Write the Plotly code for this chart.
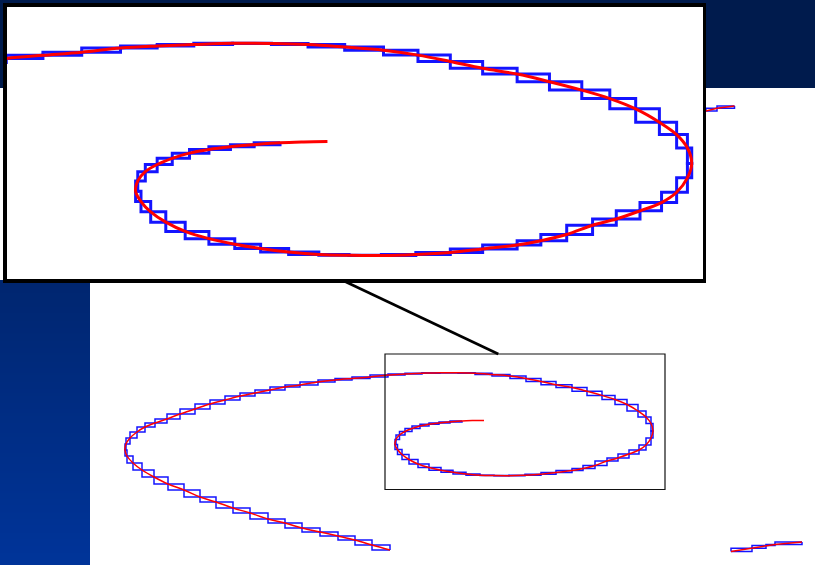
import plotly.graph_objects as go

# ---- data (x to the right, y downward) ----
spiral_x = [390, 372, 355, 338, 320, 302, 285, 268, 250, 233, 216, 200, 184, 168, 154, 142, 133, 127, 125,
            126, 130, 137, 145, 155, 167, 180, 195, 210, 225, 240, 255, 270, 285, 300, 318, 335, 352, 370,
            388, 405, 422, 440, 458, 475, 492, 510, 526, 541, 556, 572, 587, 602, 615, 627, 638, 646, 651,
            653, 651, 646, 639, 629, 618, 607, 595, 583, 572, 556, 541, 525, 509, 494, 480, 466, 453, 441,
            429, 418, 409, 402, 397.5, 395, 396, 399.5, 405, 412, 420, 429, 439, 450, 462, 473, 484]
spiral_y = [550, 545, 540, 536, 532, 528, 523, 519, 513, 508, 502, 497, 490, 484, 477, 470, 463, 456, 450,
            444, 438, 432, 427, 423, 419, 414, 409, 404, 400, 396, 393, 390, 387, 385, 382, 380, 378.5, 377,
            375, 374, 373.3, 372.7, 372.8, 373.3, 374.5, 376, 378.4, 381.5, 384.8, 387.6, 391.3, 395.4, 399.5,
            404.5, 411, 417, 423.5, 431, 438, 445, 450, 454, 458, 461, 465.5, 468.5, 470.6, 472.5, 474.2,
            475.2, 475.7, 475.6, 475.2, 474, 472.3, 470.2, 467.5, 464, 459.5, 454.5, 449.5, 444.5, 439.5,
            435, 431.5, 428.5, 426, 424.2, 422.9, 421.9, 421, 420.6, 420.4]
stair_points = 91  # staircase drawn up to here; the last stretch is the red curve only

frag_a_x = [706, 717, 734.5]
frag_a_y = [111, 108.3, 106]
frag_b_x = [731, 752, 766, 775, 802]
frag_b_y = [551.5, 548.3, 545.5, 544.5, 542]

W, H = 815, 565
fig = go.Figure()

# left background strip with a vertical blue gradient (visible below the inset)
n_rows = 60
strip_top, strip_bot = 280, H
strip_y = [strip_top + (strip_bot - strip_top) * i / n_rows for i in range(n_rows + 1)]
strip_z = [[i] for i in range(n_rows)]
fig.add_trace(go.Heatmap(x=[0, 90], y=strip_y, z=strip_z, showscale=False, hoverinfo="skip",
                         zsmooth="best",
                         colorscale=[[0, "rgb(0,38,112)"], [1, "rgb(0,52,153)"]]))


def add_curve(xs, ys, n_steps, xa, ya, width, smooth):
    sx, sy = xs[:n_steps], ys[:n_steps]
    for shape in ("hv", "vh"):
        fig.add_trace(go.Scatter(x=sx, y=sy, mode="lines", xaxis=xa, yaxis=ya,
                                 line=dict(color="rgb(20,20,255)", width=width, shape=shape),
                                 hoverinfo="skip", showlegend=False))
    fig.add_trace(go.Scatter(x=xs, y=ys, mode="lines", xaxis=xa, yaxis=ya,
                             line=dict(color="rgb(255,0,0)", width=width,
                                       shape="spline" if smooth else "linear"),
                             hoverinfo="skip", showlegend=False))


for xa, ya, w in (("x", "y", 1.5), ("x2", "y2", 3)):
    add_curve(spiral_x, spiral_y, stair_points, xa, ya, w, True)
    add_curve(frag_a_x, frag_a_y, len(frag_a_x), xa, ya, w, False)
    add_curve(frag_b_x, frag_b_y, len(frag_b_x), xa, ya, w, False)

shapes = [
    # top navy bar
    dict(type="rect", xref="x", yref="y", x0=0, x1=W, y0=0, y1=88,
         fillcolor="rgb(0,27,77)", line=dict(width=0), layer="below"),
    # inset white background
    dict(type="rect", xref="x", yref="y", x0=4.7, x1=704, y0=4.7, y1=280.5,
         fillcolor="white", line=dict(width=0), layer="below"),
    # zoom window and connector
    dict(type="rect", xref="x", yref="y", x0=385, x1=665, y0=354, y1=489.5,
         line=dict(color="#111111", width=1.2), layer="above"),
    dict(type="line", xref="x", yref="y", x0=345, y0=281.5, x1=498.3, y1=354,
         line=dict(color="black", width=2.6), layer="above"),
]

hidden = dict(visible=False, showgrid=False, zeroline=False)
inset_ax = dict(showline=True, mirror=True, linecolor="black", linewidth=3.5, showgrid=False,
                zeroline=False, showticklabels=False, ticks="")

fig.update_layout(
    width=W, height=H, margin=dict(l=0, r=0, t=0, b=0),
    paper_bgcolor="white", plot_bgcolor="rgba(0,0,0,0)",
    xaxis=dict(domain=[0, 1], range=[0, W], **hidden),
    yaxis=dict(domain=[0, 1], range=[H, 0], **hidden),
    xaxis2=dict(domain=[6.5 / W, 702.5 / W], range=[335.1, 658.0], anchor="y2", **inset_ax),
    yaxis2=dict(domain=[1 - 279 / H, 1 - 6.5 / H], range=[487.1, 354.8], anchor="x2", **inset_ax),
    shapes=shapes,
)

fig.write_html("out.html", config={"displayModeBar": False, "staticPlot": True},
               post_script="document.body.style.margin='0';document.body.style.overflow='hidden';")
